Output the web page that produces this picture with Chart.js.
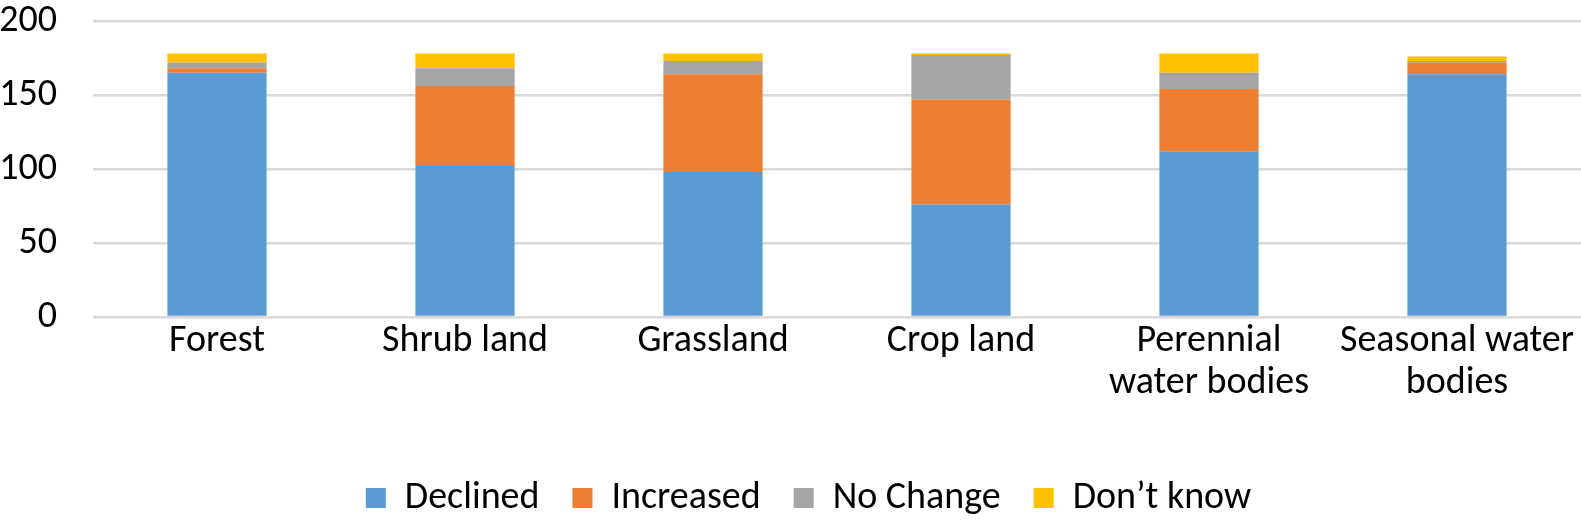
<!DOCTYPE html>
<html>
<head>
<meta charset="utf-8">
<script src="https://cdn.jsdelivr.net/npm/chart.js@4/dist/chart.umd.min.js"></script>
<style>
  html, body { margin: 0; padding: 0; background: #fff; }
  #wrap { width: 1581px; height: 520px; }
</style>
</head>
<body>
<div id="wrap"><canvas id="landChart"></canvas></div>
<script>
// Land cover categories and responses
const categories = ['Forest', 'Shrub land', 'Grassland', 'Crop land', ['Perennial', 'water bodies'], ['Seasonal water', 'bodies']];
const declined = [165, 102, 98, 76, 112, 164];
const increased = [3, 54, 66, 71, 42, 8];
const noChange = [4, 12, 9, 30, 11, 1];
const dontKnow = [6, 10, 5, 1, 13, 3];
const yTicks = [0, 50, 100, 150, 200];

const fontFamily = 'Carlito, Calibri, Lato, sans-serif';
Chart.defaults.font.family = fontFamily;
Chart.defaults.color = '#000';

// nudge the legend row a little to the right, like the original
const legendShift = {
  id: 'legendShift',
  afterLayout(chart) {
    chart.legend.left += 18;
    chart.legend.right += 18;
  },
};

const ctx = document.getElementById('landChart').getContext('2d');

new Chart(ctx, {
  type: 'bar',
  data: {
    labels: categories,
    datasets: [
      { label: 'Declined', data: declined, backgroundColor: '#5B9BD5' },
      { label: 'Increased', data: increased, backgroundColor: '#ED7D31' },
      { label: 'No Change', data: noChange, backgroundColor: '#A5A5A5' },
      { label: 'Don\u2019t know', data: dontKnow, backgroundColor: '#FFC000' },
    ],
  },
  options: {
    responsive: true,
    maintainAspectRatio: false,
    animation: false,
    barPercentage: 0.4,
    categoryPercentage: 1,
    layout: { padding: 0 },
    plugins: {
      legend: {
        position: 'bottom',
        maxHeight: 74,
        labels: {
          boxWidth: 20,
          boxHeight: 20,
          padding: 33,
          font: { size: 38 },
        },
      },
      tooltip: { enabled: false },
    },
    scales: {
      x: {
        stacked: true,
        grid: { display: false, drawTicks: false },
        border: { display: false },
        ticks: { font: { size: 38, lineHeight: 1.1 }, padding: 4, maxRotation: 0 },
        afterFit: (scale) => { scale.height = 129; },
      },
      y: {
        stacked: true,
        min: 0,
        max: 200,
        afterBuildTicks: (scale) => { scale.ticks = yTicks.map(v => ({ value: v })); },
        afterFit: (scale) => { scale.width = 93; },
        grid: { color: '#D9D9D9', lineWidth: 2.5, drawTicks: true, tickLength: 34, tickColor: 'rgba(0,0,0,0)' },
        border: { display: false },
        ticks: { font: { size: 38, lineHeight: 1 }, padding: 2 },
      },
    },
  },
  plugins: [legendShift],
});
</script>
</body>
</html>
